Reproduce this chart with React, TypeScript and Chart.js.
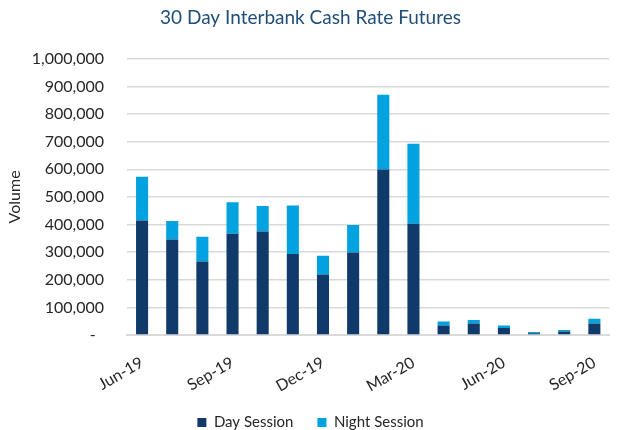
import React, { useEffect, useRef } from "react";
import { Chart, registerables } from "chart.js";

Chart.register(...registerables);

const categories = [
  "Jun-19", "Jul-19", "Aug-19", "Sep-19", "Oct-19", "Nov-19", "Dec-19", "Jan-20",
  "Feb-20", "Mar-20", "Apr-20", "May-20", "Jun-20", "Jul-20", "Aug-20", "Sep-20",
];
const daySession = [
  415000, 346000, 266000, 367000, 375000, 293000, 219000, 299000,
  599000, 403000, 34000, 42000, 25000, 6000, 13000, 42000,
];
const nightSession = [
  158000, 67000, 90000, 114000, 92000, 176000, 68000, 99000,
  271000, 289000, 15000, 12000, 9000, 5000, 5000, 17000,
];
const yTicks = [0, 100000, 200000, 300000, 400000, 500000, 600000, 700000, 800000, 900000, 1000000];

const FONT = "Lato, 'Open Sans', sans-serif";
const TEXT = "#262626";

export default function App() {
  const ref = useRef<HTMLCanvasElement | null>(null);
  useEffect(() => {
    document.body.style.margin = "0";
    const ctx = ref.current!.getContext("2d")!;
    const chart = new Chart(ctx, {
      type: "bar",
      data: {
        labels: categories,
        datasets: [
          {
            label: "Day Session",
            data: daySession,
            backgroundColor: "#0f3a6a",
            categoryPercentage: 0.8,
            barPercentage: 0.5,
            stack: "s",
          },
          {
            label: "Night Session",
            data: nightSession,
            backgroundColor: "#00a2df",
            categoryPercentage: 0.8,
            barPercentage: 0.5,
            stack: "s",
          },
        ],
      },
      options: {
        animation: false,
        responsive: false,
        maintainAspectRatio: false,
        layout: { padding: { left: 0, right: 1, top: 0, bottom: -10 } },
        plugins: {
          title: {
            display: true,
            text: "30 Day Interbank Cash Rate Futures",
            color: "#1f4e79",
            font: { family: FONT, size: 19, weight: "normal" },
            padding: { top: 6, bottom: 30 },
          },
          legend: {
            position: "bottom",
            labels: {
              color: TEXT,
              font: { family: FONT, size: 15 },
              boxWidth: 9,
              boxHeight: 9,
              padding: 24,
            },
          },
          tooltip: { enabled: false },
        },
        scales: {
          x: {
            stacked: true,
            grid: { display: false, drawTicks: false },
            border: { display: true, color: "#d9d9d9", width: 2 },
            ticks: {
              autoSkip: false,
              maxRotation: 30,
              minRotation: 30,
              padding: 18,
              color: TEXT,
              font: { family: FONT, size: 16 },
              callback: (_v: any, i: number) => (i % 3 === 0 ? categories[i] : ""),
            },
            afterFit: (s: any) => {
              s.height = 56;
            },
          },
          y: {
            stacked: true,
            min: 0,
            max: 1000000,
            afterBuildTicks: (s: any) => {
              s.ticks = yTicks.map((v) => ({ value: v }));
            },
            grid: { color: "#d9d9d9", lineWidth: 1.5, drawTicks: false },
            border: { display: false },
            ticks: {
              padding: 23,
              color: TEXT,
              font: { family: FONT, size: 16 },
              callback: (v: any) => (Number(v) === 0 ? "-  " : Number(v).toLocaleString("en-US")),
            },
            title: {
              display: true,
              text: "Volume",
              color: TEXT,
              font: { family: FONT, size: 16 },
              padding: { top: 5, bottom: 0 },
            },
            afterFit: (s: any) => {
              s.width = 127;
            },
          },
        },
      },
    });
    return () => chart.destroy();
  }, []);
  return (
    <div style={{ width: 622, height: 430 }}>
      <canvas ref={ref} width={622} height={430} style={{ width: 622, height: 430 }} />
    </div>
  );
}
